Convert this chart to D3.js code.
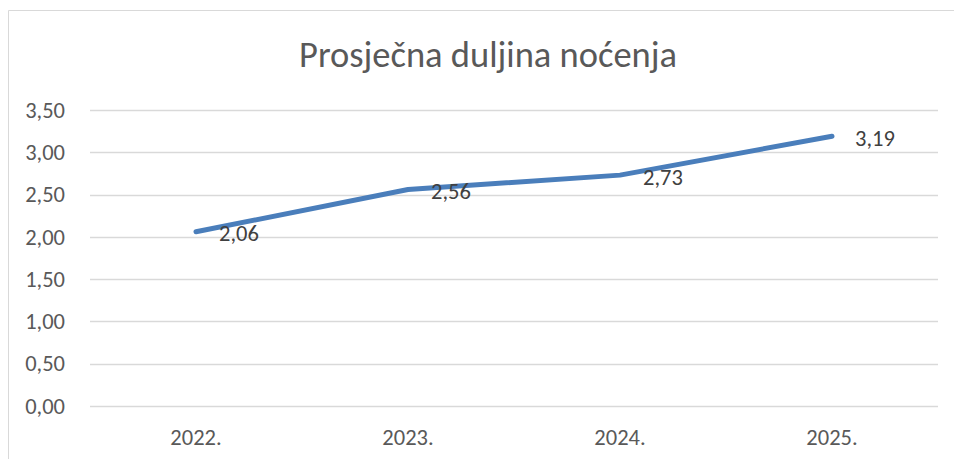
<!DOCTYPE html>
<html>
<head>
<meta charset="utf-8">
<script src="https://cdn.jsdelivr.net/npm/d3@7"></script>
<style>
  html, body { margin: 0; padding: 0; background: #fff; }
  svg { display: block; font-family: Carlito, Lato, "Open Sans", sans-serif; }
</style>
</head>
<body>
<svg id="chart"></svg>
<script>
const years = ["2022.", "2023.", "2024.", "2025."];
const values = [2.06, 2.56, 2.73, 3.19];
const yTicks = [0, 0.5, 1, 1.5, 2, 2.5, 3, 3.5];
const chartTitle = "Prosječna duljina noćenja";

const width = 954;
const height = 459;
const margin = { top: 110, right: 16, bottom: 53, left: 90 };
const labelSize = 22.5;

const fmt = v => v.toFixed(2).replace(".", ",");

const svg = d3.select("#chart")
  .attr("width", width)
  .attr("height", height);

// chart area frame (only top and left visible in the crop)
svg.append("path")
  .attr("d", `M8.5,${height} V10.5 H${width}`)
  .attr("fill", "none")
  .attr("stroke", "#d9d9d9")
  .attr("stroke-width", 1);

svg.append("text")
  .attr("x", 488)
  .attr("y", 67)
  .attr("text-anchor", "middle")
  .attr("font-size", 36.5)
  .attr("fill", "#595959")
  .text(chartTitle);

const x = d3.scaleBand()
  .domain(years)
  .range([margin.left, width - margin.right]);

const y = d3.scaleLinear()
  .domain([0, 3.5])
  .range([height - margin.bottom, margin.top]);

// gridlines
svg.append("g")
  .selectAll("line")
  .data(yTicks)
  .enter()
  .append("line")
  .attr("x1", margin.left)
  .attr("x2", width - margin.right)
  .attr("y1", d => Math.round(y(d)) + 0.5)
  .attr("y2", d => Math.round(y(d)) + 0.5)
  .attr("stroke", "#d9d9d9")
  .attr("stroke-width", 1.3);

// y axis labels
const yAxis = svg.append("g")
  .attr("transform", `translate(${margin.left - 25},0)`)
  .call(d3.axisLeft(y).tickValues(yTicks).tickFormat(fmt).tickSize(0).tickPadding(0));
yAxis.select(".domain").remove();
yAxis.selectAll("text")
  .attr("font-size", labelSize)
  .attr("font-family", "Carlito, Lato, 'Open Sans', sans-serif")
  .attr("fill", "#595959");

// x axis labels
const xAxis = svg.append("g")
  .attr("transform", `translate(0,${height - margin.bottom})`)
  .call(d3.axisBottom(x).tickSize(0).tickPadding(23));
xAxis.select(".domain").remove();
xAxis.selectAll("text")
  .attr("font-size", labelSize)
  .attr("font-family", "Carlito, Lato, 'Open Sans', sans-serif")
  .attr("fill", "#595959");

const px = (d, i) => x(years[i]) + x.bandwidth() / 2;

const line = d3.line()
  .x(px)
  .y(d => y(d));

svg.append("path")
  .datum(values)
  .attr("d", line)
  .attr("fill", "none")
  .attr("stroke", "#4a7ebb")
  .attr("stroke-width", 5)
  .attr("stroke-linecap", "round")
  .attr("stroke-linejoin", "round");

// data labels, to the right of each point
svg.append("g")
  .selectAll("text")
  .data(values)
  .enter()
  .append("text")
  .attr("x", (d, i) => px(d, i) + 23)
  .attr("y", d => y(d) + 9.5)
  .attr("font-size", labelSize)
  .attr("fill", "#404040")
  .text(fmt);
</script>
</body>
</html>
